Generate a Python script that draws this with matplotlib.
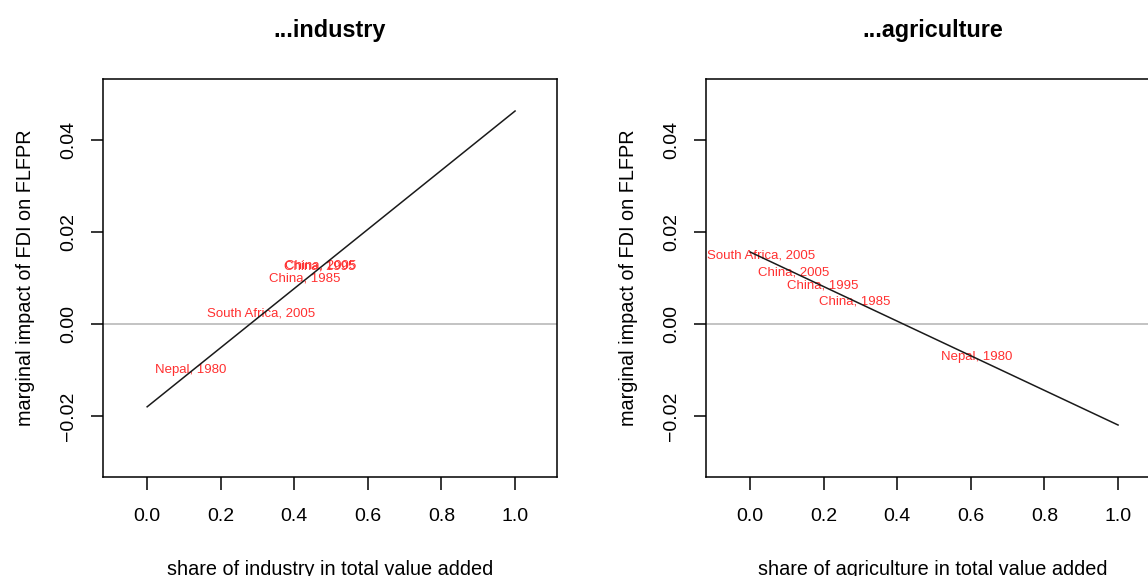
import matplotlib
matplotlib.use("Agg")
import matplotlib.pyplot as plt
import numpy as np

plt.rcParams['font.family'] = ['Liberation Sans', 'DejaVu Sans']

# Data
share_grid = [0.0, 1.0]
ind_effect = [-0.0180, 0.0463]
agr_effect = [0.01565, -0.02196]

ind_labels = ["Nepal, 1980", "South Africa, 2005", "China, 1985", "China, 1995", "China, 2005"]
ind_x = [0.117, 0.310, 0.427, 0.468, 0.472]
ind_y = [-0.0100, 0.0022, 0.0098, 0.0126, 0.0127]

agr_labels = ["Nepal, 1980", "China, 1985", "China, 1995", "China, 2005", "South Africa, 2005"]
agr_x = [0.617, 0.285, 0.198, 0.119, 0.030]
agr_y = [-0.0072, 0.0050, 0.0083, 0.0113, 0.0148]

titles = ["...industry", "...agriculture"]
xlabels = ["share of industry in total value added", "share of agriculture in total value added"]
ylabel = "marginal impact of FDI on FLFPR"
xticks = [0.0, 0.2, 0.4, 0.6, 0.8, 1.0]
yticks = [-0.02, 0.00, 0.02, 0.04]

W, H = 1148, 576
fig = plt.figure(figsize=(W / 100, H / 100), dpi=100)

positions = [(103 / W, 1 - 477 / H, 454 / W, 398 / H),
             (706 / W, 1 - 477 / H, 454 / W, 398 / H)]
effects = [ind_effect, agr_effect]
lab_sets = [(ind_labels, ind_x, ind_y), (agr_labels, agr_x, agr_y)]

for i in range(2):
    ax = fig.add_axes(positions[i])
    ax.set_xlim(-0.12, 1.114)
    ax.set_ylim(-0.03326, 0.05326)
    ax.axhline(0, color='#bebebe', lw=1.3, zorder=1)
    labs, lx, ly = lab_sets[i]
    for t, x, y in zip(labs, lx, ly):
        ax.text(x, y, t, color='#ff3030', fontsize=9.5, ha='center', va='center', zorder=2)
    ax.plot(share_grid, effects[i], color='#1a1a1a', lw=1.1, zorder=3)
    ax.set_xticks(xticks)
    ax.set_xticklabels([f"{v:.1f}" for v in xticks])
    ax.set_yticks(yticks)
    ax.set_yticklabels(["\u22120.02", "0.00", "0.02", "0.04"], rotation=90, va='center')
    ax.tick_params(axis='both', direction='out', length=9, width=1.1, labelsize=14, color='black')
    ax.tick_params(axis='x', pad=13.5)
    ax.tick_params(axis='y', pad=9.5)
    for s in ax.spines.values():
        s.set_linewidth(1.1)
    ax.set_xlabel(xlabels[i], fontsize=14.3, labelpad=25)
    ax.set_ylabel(ylabel, fontsize=14.3, labelpad=18.5)
    ax.set_title(titles[i], fontsize=16.8, fontweight='bold', pad=30)

fig.savefig("out.png", dpi=100)
